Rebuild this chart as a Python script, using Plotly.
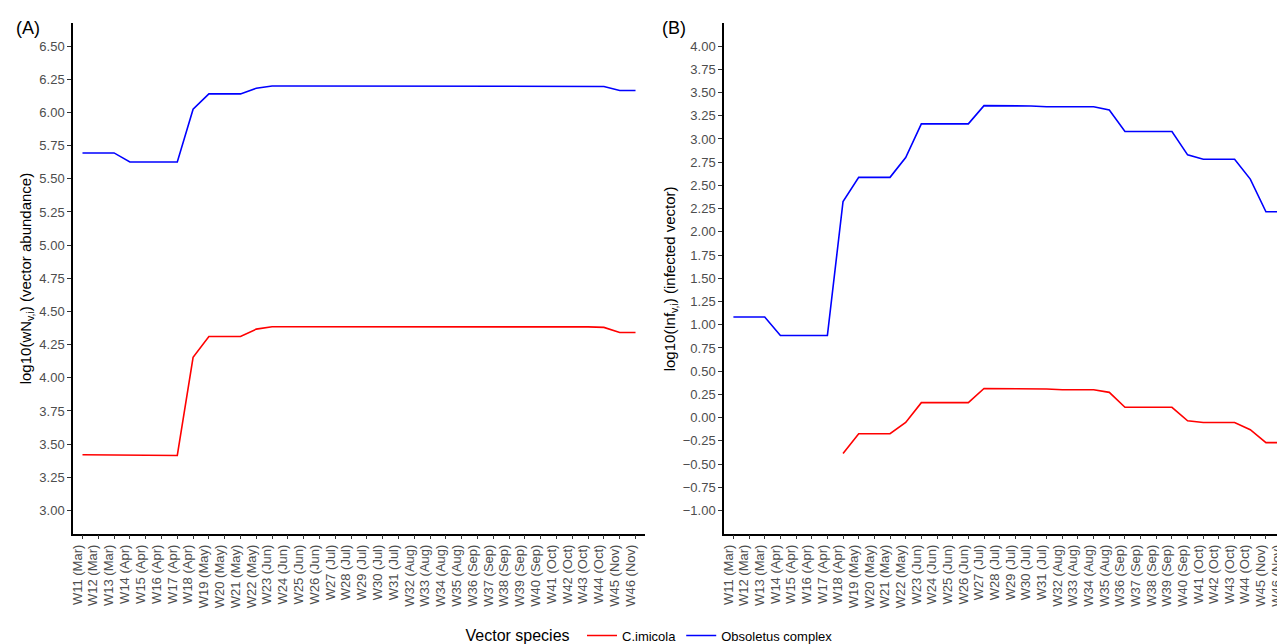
import plotly.graph_objects as go

weeks = ["W11 (Mar)", "W12 (Mar)", "W13 (Mar)", "W14 (Apr)", "W15 (Apr)", "W16 (Apr)",
         "W17 (Apr)", "W18 (Apr)", "W19 (May)", "W20 (May)", "W21 (May)", "W22 (May)",
         "W23 (Jun)", "W24 (Jun)", "W25 (Jun)", "W26 (Jun)", "W27 (Jul)", "W28 (Jul)",
         "W29 (Jul)", "W30 (Jul)", "W31 (Jul)", "W32 (Aug)", "W33 (Aug)", "W34 (Aug)",
         "W35 (Aug)", "W36 (Sep)", "W37 (Sep)", "W38 (Sep)", "W39 (Sep)", "W40 (Sep)",
         "W41 (Oct)", "W42 (Oct)", "W43 (Oct)", "W44 (Oct)", "W45 (Nov)", "W46 (Nov)"]

# Panel A: log10 vector abundance
abund_imicola = [3.42, 3.42, 3.42, 3.415, 3.415, 3.415, 3.415, 4.155, 4.312, 4.312, 4.312, 4.367,
                 4.385, 4.385, 4.385, 4.385, 4.385, 4.385, 4.385, 4.385, 4.385, 4.386, 4.386, 4.386,
                 4.386, 4.386, 4.386, 4.386, 4.386, 4.385, 4.384, 4.384, 4.384, 4.38, 4.342, 4.342]
abund_obsoletus = [5.695, 5.695, 5.695, 5.627, 5.627, 5.627, 5.627, 6.024, 6.14, 6.14, 6.14, 6.183,
                   6.2, 6.2, 6.2, 6.2, 6.2, 6.2, 6.2, 6.2, 6.2, 6.2, 6.2, 6.2,
                   6.2, 6.2, 6.2, 6.2, 6.2, 6.2, 6.2, 6.2, 6.2, 6.196, 6.166, 6.166]

# Panel B: log10 infected vectors
inf_imicola = [None, None, None, None, None, None, None, -0.387, -0.173, -0.173, -0.173, -0.052,
               0.161, 0.161, 0.161, 0.161, 0.314, 0.314, 0.314, 0.312, 0.308, 0.30, 0.30, 0.30,
               0.272, 0.111, 0.111, 0.111, 0.111, -0.034, -0.052, -0.052, -0.052, -0.13, -0.269, -0.269]
inf_obsoletus = [1.083, 1.083, 1.083, 0.884, 0.884, 0.884, 0.884, 2.327, 2.587, 2.587, 2.587, 2.8,
                 3.163, 3.163, 3.163, 3.163, 3.359, 3.359, 3.359, 3.356, 3.348, 3.348, 3.348, 3.348,
                 3.313, 3.081, 3.081, 3.081, 3.081, 2.829, 2.782, 2.782, 2.782, 2.568, 2.216, 2.216]

ticks_a = [3.00, 3.25, 3.50, 3.75, 4.00, 4.25, 4.50, 4.75, 5.00, 5.25, 5.50, 5.75, 6.00, 6.25, 6.50]
ticks_b = [-1.00, -0.75, -0.50, -0.25, 0.00, 0.25, 0.50, 0.75, 1.00, 1.25, 1.50, 1.75, 2.00,
           2.25, 2.50, 2.75, 3.00, 3.25, 3.50, 3.75, 4.00]

RED = "#FF0000"
BLUE = "#0000FF"
FONT = "Liberation Sans, Arial, sans-serif"

fig = go.Figure()
fig.add_trace(go.Scatter(x=weeks, y=abund_imicola, mode="lines", name="C.imicola",
                         line=dict(color=RED, width=1.6), xaxis="x", yaxis="y", legendgroup="a"))
fig.add_trace(go.Scatter(x=weeks, y=abund_obsoletus, mode="lines", name="Obsoletus complex",
                         line=dict(color=BLUE, width=1.6), xaxis="x", yaxis="y", legendgroup="b"))
fig.add_trace(go.Scatter(x=weeks, y=inf_imicola, mode="lines", name="C.imicola", showlegend=False,
                         line=dict(color=RED, width=1.6), xaxis="x2", yaxis="y2", legendgroup="a"))
fig.add_trace(go.Scatter(x=weeks, y=inf_obsoletus, mode="lines", name="Obsoletus complex", showlegend=False,
                         line=dict(color=BLUE, width=1.6), xaxis="x2", yaxis="y2", legendgroup="b"))

W, H = 1285, 644
yd = [1 - 529 / H, 1 - 15 / H]

xcommon = dict(type="category", range=[-0.6, 35.6], showline=True, linecolor="black", linewidth=1.5,
               tickmode="array", tickvals=weeks, ticktext=weeks, ticklabelshift=-5,
               ticks="outside", ticklen=4, tickwidth=1, tickcolor="#333333", tickangle=-90,
               tickfont=dict(family=FONT, size=13, color="#4D4D4D"), showgrid=False, zeroline=False,
               automargin=False, fixedrange=True)
ycommon = dict(showline=True, linecolor="black", linewidth=1.5, ticks="outside", ticklen=4, tickwidth=1,
               tickcolor="#333333", tickfont=dict(family=FONT, size=13, color="#4D4D4D"),
               showgrid=False, zeroline=False, automargin=False, tickformat=".2f")

fig.update_layout(
    width=W, height=H,
    margin=dict(l=0, r=0, t=0, b=0),
    paper_bgcolor="white", plot_bgcolor="white",
    font=dict(family=FONT, color="black"),
    xaxis=dict(domain=[65 / W, 637 / W], anchor="y", **xcommon),
    yaxis=dict(domain=yd, anchor="x", range=[2.825, 6.675], tickvals=ticks_a, **ycommon),
    xaxis2=dict(domain=[716 / W, 1283 / W], anchor="y2", **xcommon),
    yaxis2=dict(domain=yd, anchor="x2", range=[-1.25, 4.25], tickvals=ticks_b, **ycommon),
    legend=dict(orientation="h", x=0.5, xanchor="center", y=1 - 632 / H, yanchor="middle",
                title=dict(text="Vector species ", font=dict(family=FONT, size=16, color="black"), side="left"),
                font=dict(family=FONT, size=13, color="black"), itemwidth=30, tracegroupgap=0),
    showlegend=True,
)

fig.add_annotation(text="(A)", x=20 / W, y=1 - 20 / H, xref="paper", yref="paper", showarrow=False,
                   xanchor="center", yanchor="middle", font=dict(family=FONT, size=18, color="black"))
fig.add_annotation(text="(B)", x=666 / W, y=1 - 20 / H, xref="paper", yref="paper", showarrow=False,
                   xanchor="center", yanchor="middle", font=dict(family=FONT, size=18, color="black"))
fig.add_annotation(text="log10(wN<sub>v,i</sub>) (vector abundance)", x=18 / W, y=(yd[0] + yd[1]) / 2,
                   xref="paper", yref="paper", showarrow=False, textangle=-90,
                   xanchor="center", yanchor="middle", font=dict(family=FONT, size=15, color="black"))
fig.add_annotation(text="log10(Inf<sub>v,i</sub>) (infected vector)", x=662 / W, y=(yd[0] + yd[1]) / 2,
                   xref="paper", yref="paper", showarrow=False, textangle=-90,
                   xanchor="center", yanchor="middle", font=dict(family=FONT, size=15, color="black"))

fig.write_html("out.html")
